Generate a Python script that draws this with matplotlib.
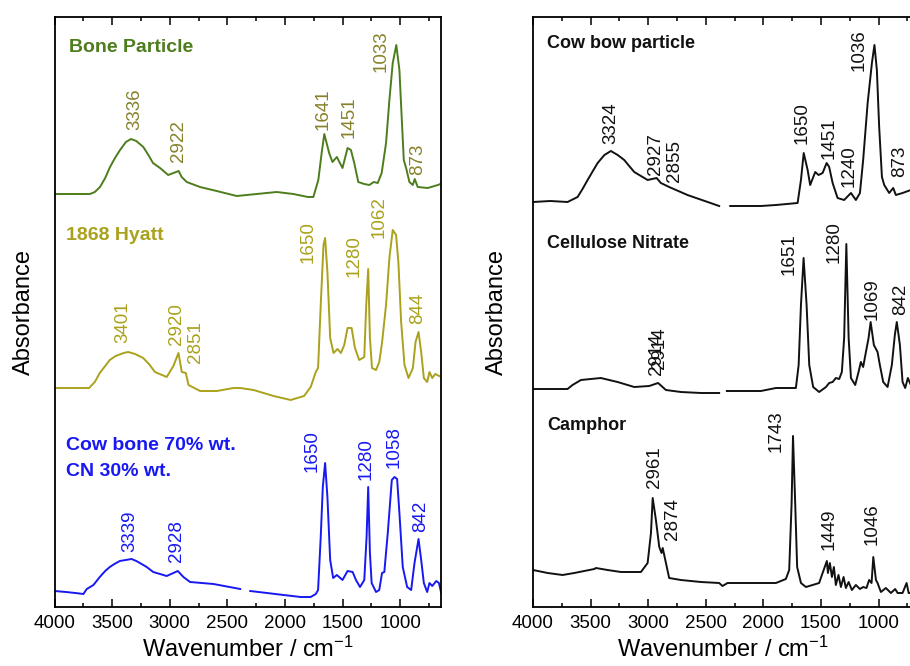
import numpy as np
import matplotlib
matplotlib.use('Agg')
import matplotlib.pyplot as plt
from matplotlib.ticker import MultipleLocator

plt.rcParams['font.family'] = ['Liberation Sans', 'DejaVu Sans']
plt.rcParams['mathtext.fontset'] = 'custom'
plt.rcParams['mathtext.rm'] = 'Liberation Sans'
plt.rcParams['mathtext.it'] = 'Liberation Sans:italic'

nan = np.nan

# ---------------- left panel: spectra (stacked, arbitrary absorbance units) ----------------
bone_wn = [4000, 3692, 3650, 3605, 3560, 3518, 3475, 3431, 3380, 3336, 3290, 3229, 3185, 3145,
           3084, 3013, 2922, 2896, 2852, 2737, 2592, 2418, 2245, 2071, 1927, 1800, 1753, 1710,
           1681, 1658, 1616, 1587, 1549, 1500, 1456, 1427, 1398, 1363, 1311, 1267, 1229, 1194,
           1160, 1122, 1093, 1064, 1033, 1006, 985, 968, 948, 919, 890, 873, 847, 760, 672, 630]
bone_abs = [413, 413, 415, 420, 429, 440, 449, 457, 465, 468, 466, 460, 452, 444,
            439, 432, 436, 430, 425, 420, 416, 411, 413, 415, 413, 410, 410, 427,
            454, 473, 454, 445, 450, 439, 459, 457, 444, 425, 423, 422, 425, 424,
            434, 464, 507, 544, 562, 537, 487, 447, 439, 425, 422, 428, 420, 419, 422, 424]

hyatt_wn = [4000, 3700, 3650, 3607, 3560, 3520, 3470, 3400, 3361, 3300, 3230, 3180, 3128, 3026,
            2968, 2924, 2895, 2860, 2837, 2736, 2591, 2446, 2388, 2272, 2098, 1950, 1834, 1776,
            1732, 1712, 1689, 1665, 1651, 1631, 1607, 1578, 1543, 1514, 1485, 1456, 1421, 1392,
            1355, 1311, 1294, 1277, 1262, 1244, 1209, 1181, 1157, 1122, 1093, 1064, 1035, 1015,
            991, 962, 927, 889, 866, 840, 817, 794, 765, 745, 721, 695, 643]
hyatt_abs = [219, 219, 225, 234, 241, 247, 251, 254, 255, 253, 249, 243, 235, 230,
             241, 254, 235, 234, 222, 216, 216, 219, 219, 217, 211, 207, 211, 220,
             235, 239, 302, 362, 369, 335, 269, 254, 258, 254, 262, 279, 279, 259,
             247, 250, 302, 338, 269, 239, 237, 245, 264, 302, 349, 377, 372, 345,
             285, 242, 229, 239, 265, 275, 255, 229, 225, 235, 229, 233, 230]

blend_wn = [4000, 3900, 3820, 3749, 3720, 3662, 3607, 3560, 3520, 3480, 3433, 3331, 3290, 3259,
            3200, 3143, 3026, 2930, 2881, 2823, 2620, 2388, 2340, 2301, 2011, 1863, 1776, 1732,
            1712, 1689, 1671, 1651, 1631, 1607, 1581, 1549, 1500, 1456, 1412, 1383, 1348, 1311,
            1291, 1277, 1262, 1247, 1209, 1181, 1157, 1137, 1107, 1072, 1049, 1026, 1006, 977,
            939, 904, 875, 840, 817, 794, 765, 745, 721, 686, 663, 643]
blend_abs = [16, 15, 14, 13, 18, 22, 30, 36, 40, 43, 46, 48, 46, 44,
             40, 35, 31, 36, 30, 25, 23, 18, nan, 16, 12, 10, 10, 13,
             17, 70, 120, 144, 110, 47, 29, 32, 27, 36, 35, 27, 20, 27,
             70, 120, 54, 24, 15, 17, 34, 35, 74, 127, 130, 128, 94, 40,
             20, 17, 44, 68, 47, 24, 15, 24, 21, 26, 24, 14]

# ---------------- right panel ----------------
cowbow_wn = [4000, 3850, 3700, 3613, 3570, 3526, 3480, 3439, 3380, 3324, 3265, 3208, 3165, 3121,
             3005, 2927, 2890, 2818, 2659, 2384, 2340, 2288, 2022, 1891, 1703, 1674, 1650, 1616,
             1594, 1550, 1521, 1486, 1451, 1429, 1399, 1356, 1299, 1240, 1197, 1162, 1134, 1095,
             1058, 1036, 1015, 995, 971, 951, 908, 873, 850, 792, 720]
cowbow_abs = [405, 406, 405, 410, 418, 427, 436, 444, 452, 456, 452, 447, 441, 435,
              427, 429, 424, 420, 412, 401, nan, 401, 401, 402, 404, 427, 454, 437,
              422, 435, 432, 434, 444, 440, 424, 409, 407, 414, 407, 414, 447, 504,
              544, 562, 537, 480, 430, 422, 414, 419, 412, 414, 417]

cn_wn = [4000, 3700, 3657, 3584, 3411, 3266, 3121, 2991, 2914, 2846, 2716, 2542, 2384, 2340,
         2317, 2022, 1891, 1718, 1694, 1674, 1651, 1625, 1602, 1568, 1516, 1457, 1429, 1399,
         1371, 1342, 1319, 1299, 1280, 1260, 1240, 1203, 1174, 1154, 1134, 1110, 1087, 1069,
         1041, 1009, 989, 960, 922, 885, 859, 842, 815, 792, 769, 746, 720]
cn_abs = [218, 218, 222, 227, 229, 225, 220, 221, 224, 217, 215, 214, 214, nan,
          216, 216, 219, 219, 242, 302, 349, 302, 242, 220, 215, 220, 224, 225,
          229, 228, 235, 269, 363, 269, 229, 222, 235, 245, 240, 255, 269, 285,
          262, 255, 242, 225, 220, 242, 272, 285, 262, 225, 219, 229, 222]

camphor_wn = [4000, 3873, 3743, 3642, 3468, 3454, 3353, 3237, 3063, 3005, 2976, 2961, 2933, 2904,
              2884, 2874, 2846, 2818, 2716, 2542, 2384, 2355, 2311, 2022, 1891, 1805, 1776, 1755,
              1743, 1724, 1707, 1674, 1631, 1573, 1516, 1486, 1449, 1440, 1423, 1405, 1388, 1371,
              1348, 1327, 1304, 1284, 1260, 1232, 1197, 1162, 1134, 1105, 1082, 1061, 1046, 1023,
              1009, 980, 937, 893, 856, 835, 792, 757, 739, 720]
camphor_abs = [37, 34, 32, 34, 38, 39, 37, 35, 35, 44, 74, 109, 87, 60,
               54, 59, 44, 29, 27, 25, 24, 21, 24, 24, 24, 28, 37, 104,
               171, 104, 40, 24, 20, 22, 24, 34, 46, 34, 44, 30, 40, 22,
               32, 20, 30, 19, 25, 17, 22, 18, 20, 19, 27, 24, 50, 27,
               24, 15, 19, 14, 18, 14, 14, 24, 14, 14]

# ---------------- peak labels: (text, wavenumber position, height of label base) ----------------
bone_labels = [('3336', 3302, 477), ('2922', 2925, 445), ('1641', 1665, 477),
               ('1451', 1442, 469), ('1033', 1166, 535), ('873', 852, 432)]
hyatt_labels = [('3401', 3404, 264), ('2920', 2940, 262), ('2851', 2780, 244),
                ('1650', 1800, 344), ('1280', 1398, 330), ('1062', 1180, 369), ('844', 846, 283)]
blend_labels = [('3339', 3346, 55), ('2928', 2945, 45), ('1650', 1761, 135),
                ('1280', 1296, 127), ('1058', 1050, 139), ('842', 824, 75)]
cowbow_labels = [('3324', 3324, 463), ('2927', 2933, 432), ('2855', 2774, 425),
                 ('1650', 1660, 463), ('1451', 1429, 448), ('1240', 1255, 420),
                 ('1036', 1168, 536), ('873', 821, 430)]
cn_labels = [('2914', 2925, 232), ('2914', 2905, 238), ('1651', 1776, 332),
             ('1280', 1385, 344), ('1069', 1052, 287), ('842', 806, 292)]
camphor_labels = [('2961', 2943, 119), ('2874', 2788, 67), ('1743', 1891, 155),
                  ('1449', 1429, 57), ('1046', 1052, 62)]

c_bone = '#4d7d1c'
c_bone_num = '#86822a'
c_hyatt = '#aaa21c'
c_blue = '#1818f2'
c_black = '#111111'

W, H = 910, 666
fig = plt.figure(figsize=(W / 100, H / 100), dpi=100)
ax1 = fig.add_axes([54.5 / W, 59 / H, 386.5 / W, 590 / H])
ax2 = fig.add_axes([533 / W, 59 / H, 379 / W, 590 / H])


def label_peaks(ax, labels, color):
    for txt, xw, yh in labels:
        ax.text(xw, yh, txt, rotation=90, ha='center', va='bottom', fontsize=13.5, color=color)


def style(ax, xmin):
    ax.set_xlim(4000, xmin)
    ax.set_ylim(0, 590)
    ax.xaxis.set_major_locator(MultipleLocator(500))
    ax.xaxis.set_minor_locator(MultipleLocator(250))
    ax.tick_params(axis='x', which='both', direction='in', top=True, labelsize=13.5, pad=6)
    ax.tick_params(axis='x', which='major', length=5.5, width=1.1)
    ax.tick_params(axis='x', which='minor', length=3, width=1.1)
    ax.set_yticks([])
    for s in ax.spines.values():
        s.set_linewidth(1.3)
    ax.set_xlabel('Wavenumber / cm$^{-1}$', fontsize=17, labelpad=3)
    ax.set_ylabel('Absorbance', fontsize=17, labelpad=14)


# left panel
ax1.plot(bone_wn, bone_abs, color=c_bone, lw=1.4)
ax1.plot(hyatt_wn, hyatt_abs, color=c_hyatt, lw=1.4)
ax1.plot(blend_wn, blend_abs, color=c_blue, lw=1.4)
label_peaks(ax1, bone_labels, c_bone_num)
label_peaks(ax1, hyatt_labels, c_hyatt)
label_peaks(ax1, blend_labels, c_blue)
ax1.text(3870, 559, 'Bone Particle', fontsize=14, fontweight='bold', color=c_bone, va='center')
ax1.text(3900, 372, '1868 Hyatt', fontsize=14, fontweight='bold', color=c_hyatt, va='center')
ax1.text(3900, 162, 'Cow bone 70% wt.', fontsize=14, fontweight='bold', color=c_blue, va='center')
ax1.text(3900, 136, 'CN 30% wt.', fontsize=14, fontweight='bold', color=c_blue, va='center')
style(ax1, 645)

# right panel
ax2.plot(cowbow_wn, cowbow_abs, color=c_black, lw=1.4)
ax2.plot(cn_wn, cn_abs, color=c_black, lw=1.4)
ax2.plot(camphor_wn, camphor_abs, color=c_black, lw=1.4)
label_peaks(ax2, cowbow_labels, c_black)
label_peaks(ax2, cn_labels, c_black)
label_peaks(ax2, camphor_labels, c_black)
ax2.text(3880, 563, 'Cow bow particle', fontsize=13, fontweight='bold', color=c_black, va='center')
ax2.text(3880, 364, 'Cellulose Nitrate', fontsize=13, fontweight='bold', color=c_black, va='center')
ax2.text(3880, 181, 'Camphor', fontsize=13, fontweight='bold', color=c_black, va='center')
style(ax2, 710)
ax2.set_ylabel('Absorbance', fontsize=17, labelpad=18)

fig.savefig('out.png', dpi=100)
